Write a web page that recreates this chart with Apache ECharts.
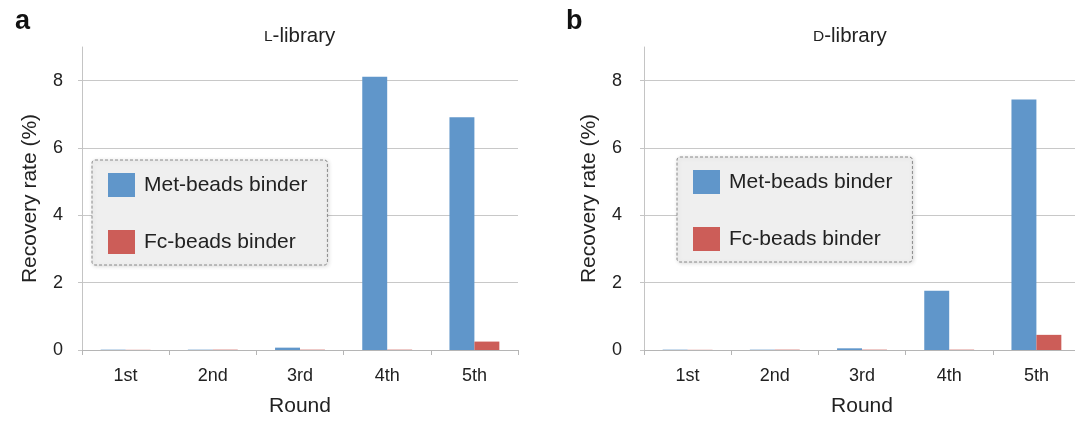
<!DOCTYPE html>
<html><head><meta charset="utf-8">
<script src="https://cdn.jsdelivr.net/npm/echarts@6/dist/echarts.min.js"></script>
<style>html,body{margin:0;padding:0;background:#fff}#c{width:1075px;height:421px}</style>
</head><body><div id="c"></div>
<script>
const categories = ['1st', '2nd', '3rd', '4th', '5th'];
const seriesNames = ['Met-beads binder', 'Fc-beads binder'];
const lMet = [0.01, 0.01, 0.07, 8.12, 6.91];
const lFc = [0.005, 0.01, 0.01, 0.01, 0.25];
const dMet = [0.01, 0.01, 0.05, 1.76, 7.44];
const dFc = [0.005, 0.01, 0.01, 0.01, 0.45];
const yTicks = [0, 2, 4, 6, 8];
const panelLetters = ['a', 'b'];
const panelTitles = ['L', 'D'];

const FONT = 'Liberation Sans';
const BLUE = '#6096ca';
const RED = '#cc5d58';
const TXT = '#222';

function xAxis(i) {
  return {
    type: 'category', gridIndex: i, data: categories,
    name: 'Round', nameLocation: 'middle', nameGap: 46,
    nameTextStyle: { fontFamily: FONT, fontSize: 21, color: TXT },
    axisLine: { lineStyle: { color: '#b5b5b5', width: 1 } },
    axisTick: { show: true, length: 5, lineStyle: { color: '#b5b5b5' } },
    axisLabel: { fontFamily: FONT, fontSize: 18, color: TXT, margin: 17 }
  };
}
function yAxis(i, gap, lblMargin) {
  return {
    type: 'value', gridIndex: i, min: 0, max: 9, interval: 2,
    name: 'Recovery rate (%)', nameLocation: 'middle', nameGap: gap, nameRotate: 90,
    nameTextStyle: { fontFamily: FONT, fontSize: 21, color: TXT },
    axisLine: { show: true, lineStyle: { color: '#c4c4c4', width: 1 } },
    axisTick: { show: true, length: 4, customValues: yTicks, lineStyle: { color: '#c4c4c4' } },
    axisLabel: { fontFamily: FONT, fontSize: 18, color: TXT, margin: lblMargin,
      customValues: yTicks },
    splitLine: { show: true, lineStyle: { color: '#c8c8c8', width: 1 } }
  };
}
function bar(name, data, i, color) {
  return { type: 'bar', name, data, xAxisIndex: i, yAxisIndex: i,
    barWidth: '28.6%', barGap: '0%', itemStyle: { color }, silent: true };
}
function legend(left, top) {
  return {
    left, top, orient: 'vertical', data: seriesNames,
    itemWidth: 27, itemHeight: 24, itemGap: 33, icon: 'rect',
    textStyle: { fontFamily: FONT, fontSize: 21, color: TXT, padding: [0, 0, 0, 4] },
    backgroundColor: '#efefef', borderColor: '#8a8a8a', borderWidth: 1, borderType: [3, 2],
    borderRadius: 3, padding: [13, 20, 11, 16],
    shadowBlur: 4, shadowColor: 'rgba(0,0,0,0.15)', shadowOffsetX: 1, shadowOffsetY: 1,
    selectedMode: false
  };
}
function title(letter, lib, letterLeft, libLeft) {
  return [
    { text: letter, left: letterLeft, top: 3,
      textStyle: { fontFamily: FONT, fontSize: 27, fontWeight: 'bold', color: '#111' } },
    { text: '{sc|' + lib + '}-library', left: libLeft, top: 21,
      textStyle: { fontFamily: FONT, fontSize: 20.5, fontWeight: 'normal', color: TXT,
        rich: { sc: { fontFamily: FONT, fontSize: 15.5, color: TXT } } } }
  ];
}

const option = {
  animation: false,
  backgroundColor: '#fff',
  color: [BLUE, RED],
  title: [
    ...title(panelLetters[0], panelTitles[0], 10, 259),
    ...title(panelLetters[1], panelTitles[1], 808, 808).map((t, k) => k === 0 ? Object.assign(t, { left: 561 }) : t)
  ],
  legend: [legend(92, 160), legend(677, 157)],
  grid: [
    { left: 82, top: 47, width: 436, bottom: 71, outerBoundsMode: 'none' },
    { left: 644, top: 47, width: 436, bottom: 71, outerBoundsMode: 'none' }
  ],
  xAxis: [xAxis(0), xAxis(1)],
  yAxis: [yAxis(0, 41, 19), yAxis(1, 44, 22)],
  series: [
    bar(seriesNames[0], lMet, 0, BLUE),
    bar(seriesNames[1], lFc, 0, RED),
    bar(seriesNames[0], dMet, 1, BLUE),
    bar(seriesNames[1], dFc, 1, RED)
  ]
};
const chart = echarts.init(document.getElementById('c'), null, { renderer: 'canvas' });
chart.setOption(option);
</script></body></html>
